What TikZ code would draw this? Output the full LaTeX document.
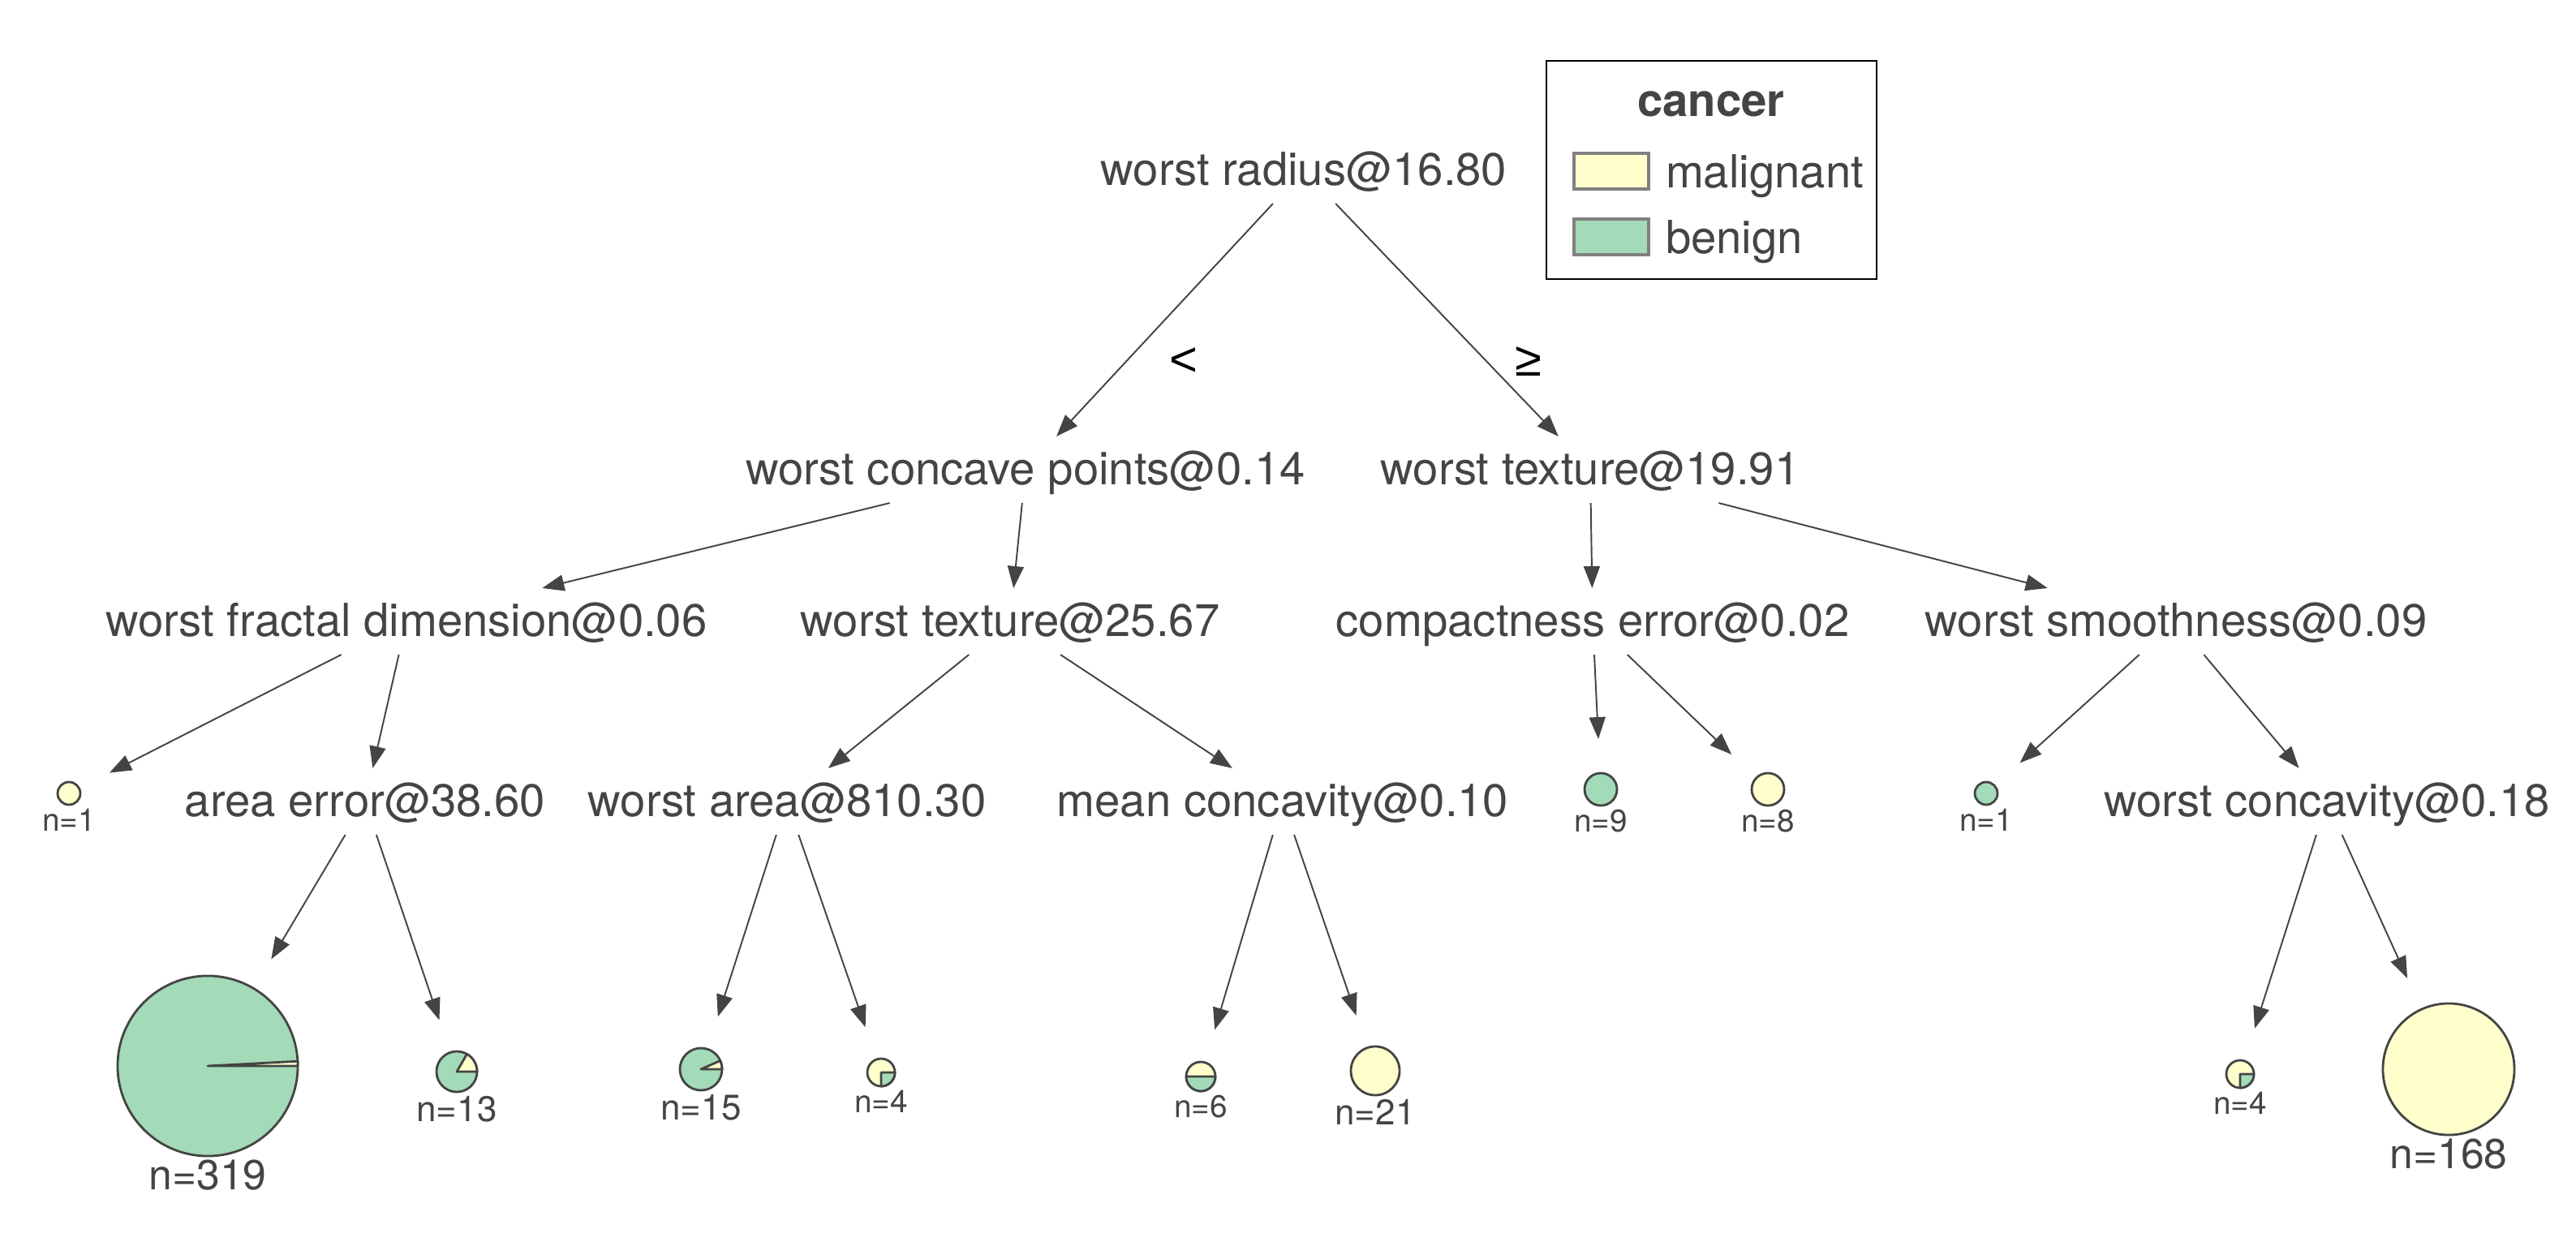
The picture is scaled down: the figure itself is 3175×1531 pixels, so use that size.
\documentclass[tikz,border=0pt]{standalone}
\usepackage{fontspec}
\setmainfont{TeX Gyre Heros}
\newfontfamily\relfont{Liberation Sans}
\usetikzlibrary{positioning,arrows.meta}
\definecolor{inkGray}{RGB}{68,68,68}
\definecolor{boxGray}{RGB}{128,128,128}
\definecolor{malig}{RGB}{255,255,204}
\definecolor{benign}{RGB}{163,218,183}

% pie slice on top of a leaf: node, radius, start, end, colour
\newcommand{\leafslice}[5]{%
    \filldraw[fill=#5, draw=inkGray, line width=0.8pt, line join=round]
        (#1.center) -- ++(#3:#2) arc[start angle=#3, end angle=#4, radius=#2] -- cycle;
}

\begin{document}
\begin{tikzpicture}[%
    x=0.01cm, y=-0.01cm,
    every node/.style={
        text=inkGray,
        inner sep=0pt,
        outer sep=0pt,
    },
    splitnode/.style={
        font=\fontsize{16}{19}\selectfont,
        % fixed box so that all arrows stop at the same height
        text height=0.4cm,
        text depth=0.04cm,
        minimum height=0.82cm,
    },
    splitarrow/.style={draw=inkGray, line width=0.55pt, -{Triangle[length=0.27cm,width=0.2cm]}},
    leafpie/.style={circle, draw=inkGray, line width=0.8pt},
    leafcount/.style={},
    swatch/.style={draw=boxGray, line width=0.9pt, minimum width=0.92cm, minimum height=0.44cm},
    relsym/.style={text=black, font=\relfont\fontsize{17}{20}\selectfont},
]
\useasboundingbox (0,0) rectangle (3175,1531);

% place legend
\draw[black, line width=0.8pt] (1906,75) rectangle (2313,344);
\node[font=\bfseries\fontsize{16}{19}\selectfont, anchor=base] (legtitle) at (2109,144) {cancer};
\node[swatch, fill=malig] (swmalig) at (1986,211) {};
\node[swatch, fill=benign] (swbenign) at (1986,292) {};
\node[font=\fontsize{16}{19}\selectfont, anchor=base west] (txmalig) at (2053,232) {malignant};
\node[font=\fontsize{16}{19}\selectfont, anchor=base west] (txbenign) at (2053,313) {benign};

% place split nodes
\node[splitnode] (root) at (1607,210) {worst radius@16.80};
\node[splitnode] (cp) at (1264,579) {worst concave points@0.14};
\node[splitnode] (wt1) at (1960,579) {worst texture@19.91};
\node[splitnode] (wfd) at (501,766) {worst fractal dimension@0.06};
\node[splitnode] (wt2) at (1245,766) {worst texture@25.67};
\node[splitnode] (ce) at (1963,766) {compactness error@0.02};
\node[splitnode] (ws) at (2682,766) {worst smoothness@0.09};
\node[splitnode] (ae) at (450,988) {area error@38.60};
\node[splitnode] (wa) at (970,988) {worst area@810.30};
\node[splitnode] (mc) at (1581,988) {mean concavity@0.10};
\node[splitnode] (wc) at (2868,988) {worst concavity@0.18};

% place branch signs
\node[relsym] (lt) at (1459,446) {<};
\node[relsym] (ge) at (1884,446) {≥};

% place leaves
\foreach \name/\x/\y/\d/\col/\n/\fs in {%
    l1a/85/978/0.28cm/malig/1/11,
    l319/256/1314/2.22cm/benign/319/14.7,
    l13/563/1321/0.5cm/benign/13/12.5,
    l15/864/1318/0.52cm/benign/15/12.5,
    l4a/1086/1322/0.34cm/malig/4/11,
    l6/1480/1327/0.36cm/malig/6/11,
    l21/1695/1320/0.6cm/malig/21/12.5,
    l9/1973/973/0.4cm/benign/9/11,
    l8/2179/973/0.4cm/malig/8/11,
    l1b/2448/978/0.28cm/benign/1/11,
    l4b/2761/1324/0.34cm/malig/4/11,
    l168/3018/1318/1.62cm/malig/168/14.7%
} {
    \node[leafpie, fill=\col, minimum size=\d] (\name) at (\x,\y) {};
    \node[leafcount, font=\fontsize{\fs}{\fs}\selectfont, below=0.05cm of \name] (\name n) {n=\n};
}

% minority slices
\leafslice{l319}{1.11cm}{0}{3}{malig}
\leafslice{l13}{0.25cm}{0}{60}{malig}
\leafslice{l15}{0.26cm}{0}{24}{malig}
\leafslice{l4a}{0.17cm}{270}{360}{benign}
\leafslice{l6}{0.18cm}{180}{360}{benign}
\leafslice{l4b}{0.17cm}{270}{360}{benign}

% draw arrows between splits
\foreach \a/\b in {root/cp, root/wt1, cp/wfd, cp/wt2, wt1/ce, wt1/ws, wfd/ae, wt2/wa, wt2/mc, ws/wc} {
    \draw[splitarrow] (\a) -- (\b);
}

% draw arrows into leaves
\foreach \a/\b in {wfd/l1a, ae/l319, ae/l13, wa/l15, wa/l4a, mc/l6, mc/l21, ce/l9, ce/l8, ws/l1b, wc/l4b, wc/l168} {
    \draw[splitarrow, shorten >=0.42cm] (\a) -- (\b);
}

\end{tikzpicture}
\end{document}
